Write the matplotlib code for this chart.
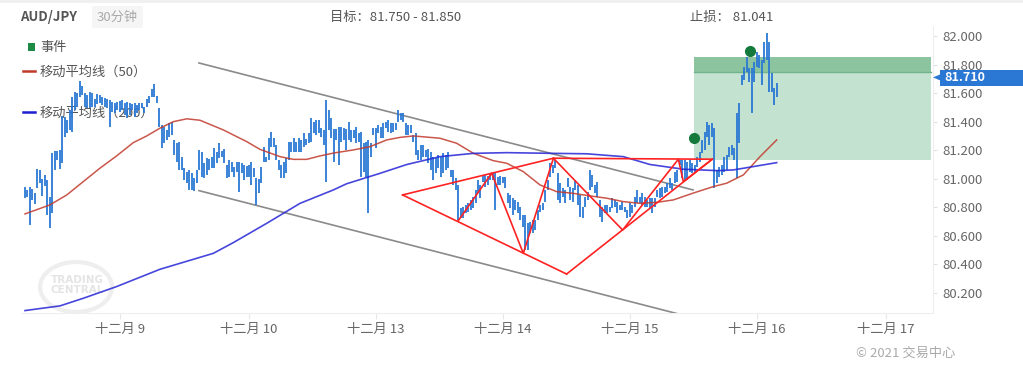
import matplotlib
matplotlib.use('Agg')
import matplotlib.pyplot as plt
from matplotlib.patches import Ellipse, Rectangle, Polygon, FancyBboxPatch
from matplotlib.transforms import blended_transform_factory
import numpy as np

plt.rcParams['font.family'] = ['Noto Sans CJK SC', 'DejaVu Sans']

# 30-minute bars, AUD/JPY (high / low per bar)
highs = [
    80.945, 80.920, 80.945, 80.930, 80.900, 81.066, 81.060, 80.996, 81.027, 80.990,
    80.875, 81.178, 81.197, 81.197, 81.200, 81.440, 81.435, 81.412, 81.482, 81.575,
    81.608, 81.603, 81.687, 81.650, 81.603, 81.587, 81.610, 81.599, 81.557, 81.594,
    81.587, 81.575, 81.565, 81.557, 81.552, 81.540, 81.529, 81.540, 81.545, 81.552,
    81.533, 81.540, 81.533, 81.524, 81.529, 81.520, 81.529, 81.533, 81.505, 81.557,
    81.580, 81.627, 81.662, 81.580, 81.494, 81.377, 81.365, 81.342, 81.389, 81.400,
    81.272, 81.250, 81.260, 81.155, 81.073, 81.050, 81.062, 81.038, 81.003, 81.062,
    81.202,
    81.190, 81.109, 81.144, 81.136, 81.155, 81.214, 81.190, 81.253, 81.197, 81.207,
    81.097, 81.132, 81.120, 81.085, 81.120, 81.120, 81.113, 81.097, 81.090, 81.097,
    81.120, 81.073, 81.003, 80.996, 81.085, 81.225, 81.155, 81.284, 81.330, 81.284,
    81.237, 81.132, 81.097, 81.120, 81.144, 81.260, 81.260, 81.284, 81.260,
    81.284, 81.272, 81.319, 81.277, 81.319, 81.424,
    81.400, 81.412, 81.412, 81.354, 81.342, 81.552, 81.482, 81.424,
    81.347, 81.347, 81.365, 81.365, 81.354, 81.347, 81.400, 81.342, 81.342, 81.365,
    81.319, 81.330, 81.249, 81.260, 81.272, 81.249, 81.354, 81.354,
    81.377, 81.365, 81.389, 81.400, 81.412, 81.389, 81.393, 81.389, 81.482, 81.459,
    81.459, 81.389, 81.377, 81.377, 81.307, 81.319, 81.202,
    81.237, 81.237, 81.202, 81.207, 81.190, 81.155, 81.144, 81.167, 81.155, 81.179,
    81.167, 81.190, 81.062, 81.062, 81.003, 80.957, 80.793, 80.805, 80.817, 80.828,
    80.852, 80.875, 80.922, 80.992, 80.957, 81.027, 81.027, 81.020, 81.038, 81.038,
    81.038, 81.010, 81.020, 81.010, 81.010, 80.898, 80.887, 80.863, 80.852, 80.840,
    80.805, 80.747, 80.747, 80.688, 80.700, 80.712, 80.712, 80.782, 80.817, 80.828,
    80.922, 80.992, 81.109, 81.097, 81.132, 81.038, 80.968, 80.933, 80.922, 81.003,
    80.945, 80.933, 80.992, 80.957, 80.887, 80.805, 80.875, 80.910, 81.062, 81.027,
    80.957, 80.980, 80.852, 80.805, 80.817, 80.817, 80.805, 80.863, 80.852, 80.840,
    80.817, 80.840, 80.805, 80.782, 80.828, 80.817, 80.875, 80.922, 80.875, 80.898,
    80.875, 80.852, 80.863, 80.863, 80.863, 80.922, 80.933, 80.945, 80.945, 80.968,
    81.003, 80.968, 81.050, 81.062, 81.132, 81.132, 81.132, 81.120, 81.132, 81.109,
    81.097, 81.155, 81.190, 81.272, 81.330, 81.400, 81.377, 81.389, 81.354, 81.062,
    81.085, 81.097,
    81.155, 81.167, 81.225, 81.237, 81.214,
    81.460, 81.528, 81.727, 81.785, 81.855, 81.774, 81.774, 81.820, 81.890, 81.867,
    81.832, 81.960, 82.019, 81.960, 81.739, 81.634, 81.669,
]
lows = [
    80.863, 80.870, 80.677, 80.850, 80.820, 80.938, 80.968, 80.880, 80.950, 80.747,
    80.658, 80.763, 81.062, 81.132, 81.066, 81.113, 81.295, 81.319, 81.342, 81.330,
    81.482, 81.505, 81.575, 81.587, 81.505, 81.494, 81.494, 81.505, 81.505, 81.524,
    81.533, 81.517, 81.500, 81.494, 81.365, 81.470, 81.459, 81.482, 81.470, 81.482,
    81.447, 81.424, 81.447, 81.482, 81.435, 81.460, 81.482, 81.494, 81.459, 81.505,
    81.533, 81.575, 81.575, 81.529, 81.365, 81.213, 81.249, 81.272, 81.295, 81.307,
    81.167, 81.120, 81.062, 81.062, 80.992, 80.968, 80.922, 80.922, 80.917, 80.968,
    81.062,
    81.015, 81.003, 81.027, 81.062, 81.073, 81.073, 81.109, 81.144, 81.155, 81.109,
    81.003, 81.015, 81.050, 81.015, 81.050, 80.910, 81.038, 80.992, 81.015, 81.015,
    80.957, 81.015, 80.817, 80.898, 80.968, 81.120, 81.120, 81.132, 81.225, 81.225,
    81.132, 81.062, 81.003, 81.003, 81.043, 81.132, 81.190, 81.190, 81.190,
    81.190, 81.190, 81.225, 81.237, 81.249, 81.260,
    81.319, 81.307, 81.319, 81.295, 81.237, 80.980, 81.342, 81.284,
    81.120, 81.272, 81.097, 81.260, 81.272, 81.202, 81.272, 81.260, 81.284, 81.249,
    81.260, 81.015, 81.050, 81.015, 80.758, 81.155, 81.307, 81.214,
    81.319, 81.284, 81.284, 81.354, 81.330, 81.319, 81.330, 81.342, 81.400, 81.412,
    81.400, 81.307, 81.307, 81.319, 81.260, 81.167, 81.132,
    81.132, 81.155, 81.155, 81.109, 81.062, 80.992, 81.038, 81.073, 81.015, 81.038,
    81.062, 81.073, 81.015, 80.957, 80.922, 80.712, 80.723, 80.723, 80.758, 80.770,
    80.782, 80.793, 80.828, 80.898, 80.863, 80.980, 80.945, 80.957, 80.992, 80.992,
    80.782, 80.957, 80.957, 80.973, 80.933, 80.828, 80.793, 80.747, 80.782, 80.758,
    80.712, 80.665, 80.502, 80.502, 80.618, 80.618, 80.642, 80.712, 80.770, 80.782,
    80.840, 80.922, 81.015, 81.038, 81.073, 80.852, 80.828, 80.875, 80.828, 80.945,
    80.852, 80.840, 80.922, 80.817, 80.735, 80.723, 80.805, 80.852, 80.922, 80.945,
    80.898, 80.875, 80.735, 80.700, 80.758, 80.758, 80.770, 80.793, 80.805, 80.758,
    80.782, 80.782, 80.770, 80.723, 80.735, 80.758, 80.805, 80.828, 80.828, 80.817,
    80.805, 80.805, 80.793, 80.758, 80.805, 80.875, 80.863, 80.875, 80.898, 80.910,
    80.933, 80.922, 80.968, 80.980, 81.097, 81.003, 80.992, 80.992, 81.050, 81.038,
    81.038, 81.085, 81.120, 81.179, 81.202, 81.295, 81.237, 81.295, 80.933, 80.968,
    81.015, 81.027,
    81.050, 81.062, 81.155, 81.167, 81.132,
    81.003, 81.250, 81.657, 81.692, 81.750, 81.680, 81.458, 81.680, 81.785, 81.774,
    81.657, 81.809, 81.832, 81.610, 81.610, 81.517, 81.575,
]

# moving averages (bar index, value)
ma50_bar = [0, 10, 16.8, 23.4, 30.1, 36.8, 43.5, 48.9, 54.2, 59.6, 65, 70.3, 79.7, 89.1,
            94.4, 102.5, 107.8, 113.2, 118.5, 123.9, 131.9, 138.6, 145.3, 150.7, 156,
            166.7, 173.4, 180.1, 188.1, 193.5, 200.2, 206.9, 213.6, 220.3, 227, 233.7,
            240.4, 247.1, 253.8, 260.5, 268.5, 276.5, 281.9, 288.6, 295.3, 302]
ma50_val = [80.754, 80.817, 80.887, 80.980, 81.074, 81.160, 81.253, 81.300, 81.354, 81.400,
            81.420, 81.410, 81.342, 81.260, 81.206, 81.155, 81.136, 81.136, 81.160, 81.180,
            81.202, 81.225, 81.272, 81.290, 81.300, 81.284, 81.249, 81.179, 81.127, 81.109,
            81.050, 80.957, 80.910, 80.898, 80.880, 80.864, 80.840, 80.828, 80.835, 80.852,
            80.900, 80.945, 80.969, 81.027, 81.155, 81.272]
ma200_bar = [0, 14.1, 23.4, 36.8, 54.2, 75.7, 83.7, 97.1, 110.5, 123.9, 129.2, 142.6,
             153.4, 166.7, 180.1, 193.5, 212.3, 225.7, 240.4, 251.1, 264.5, 278.3, 284.6, 302]
ma200_val = [80.077, 80.110, 80.163, 80.245, 80.366, 80.478, 80.553, 80.688, 80.828, 80.922,
             80.965, 81.038, 81.100, 81.155, 81.178, 81.183, 81.178, 81.175, 81.155, 81.100,
             81.067, 81.057, 81.062, 81.113]

# harmonic pattern pivots
piv = {
    'A': (151.7, 80.887), 'B': (174.1, 80.707), 'C': (187.5, 81.039),
    'D': (200.2, 80.478), 'E': (212.3, 81.144), 'F': (217.6, 80.333),
    'G': (240.1, 80.641), 'H': (262.5, 81.137), 'I': (264.5, 80.980),
    'J': (276.1, 81.137),
}
pattern_paths = ['AE', 'AF', 'BCDEGHIJ', 'FJ', 'EJ']

# descending channel
chan_bar = [69.9, 268.4]
chan_upper = [81.811, 80.922]
chan_lower = [80.917, 80.027]

# trade idea
target_lo, target_hi = 81.750, 81.850
zone_lo = 81.13
zone_bar = [268.8, 364]
event_bar = [268.8, 291.3]
event_val = [81.286, 81.897]
last_price = 81.710

day_bar = [38, 90, 141, 192, 243, 294, 346]
day_labels = ['十二月 9', '十二月 10', '十二月 13', '十二月 14', '十二月 15', '十二月 16', '十二月 17']
price_ticks = [80.2, 80.4, 80.6, 80.8, 81.0, 81.2, 81.4, 81.6, 81.8, 82.0]

W, H = 1023, 366
fig = plt.figure(figsize=(W / 100, H / 100), dpi=100)
ax = fig.add_axes([22 / W, 1 - 313 / H, (933 - 22) / W, (313 - 26) / H])
ax.patch.set_alpha(0)


def fx(px):
    return px / W


def fy(py):
    return 1 - py / H


# top strip
fig.add_artist(Rectangle((0, fy(3)), 1, 3 / H, transform=fig.transFigure,
                         color='#f0f0f0', lw=0, zorder=-3))

# watermark
fig.add_artist(Ellipse((fx(76), fy(287)), 72 / W, 50 / H, transform=fig.transFigure,
                       fill=False, ec='#eeeeee', lw=3, zorder=-2))
fig.text(fx(77), fy(280), 'TRADING', ha='center', va='center', fontsize=7.5,
         color='#e4e4e4', weight='bold', family='DejaVu Sans', zorder=-2)
fig.text(fx(77), fy(290), 'CENTRAL', ha='center', va='center', fontsize=7.5,
         color='#e4e4e4', weight='bold', family='DejaVu Sans', zorder=-2)

# legend (sits under the bars)
fig.add_artist(Rectangle((fx(27.5), fy(50.5)), 7 / W, 7 / H, transform=fig.transFigure,
                         color='#1a8a45', lw=0, zorder=-1))
fig.add_artist(plt.Line2D([fx(23), fx(35)], [fy(71), fy(71)], transform=fig.transFigure,
                          color='#c0392b', lw=1.8, zorder=-1))
fig.add_artist(plt.Line2D([fx(23), fx(35)], [fy(112), fy(112)], transform=fig.transFigure,
                          color='#1f1fd0', lw=1.8, zorder=-1))
for ypx, txt in [(47, '事件'), (72, '移动平均线（50）'), (113, '移动平均线（200）')]:
    fig.text(fx(40), fy(ypx), txt, va='center', fontsize=9.5, color='#555555', zorder=-1)

# header
fig.text(fx(20), fy(17), 'AUD/JPY', va='center', fontsize=9.5, color='#555555', weight='bold')
fig.add_artist(FancyBboxPatch((fx(92), fy(28)), 51 / W, 22 / H, transform=fig.transFigure,
                              boxstyle='round,pad=0,rounding_size=0.004',
                              fc='#f5f5f5', ec='none'))
fig.text(fx(117.5), fy(17), '30分钟', ha='center', va='center', fontsize=9.5, color='#aaaaaa')
fig.text(fx(330), fy(17), f'目标：{target_lo:.3f} - {target_hi:.3f}', va='center',
         fontsize=9.5, color='#555555')
fig.text(fx(690), fy(17), '止损： 81.041', va='center', fontsize=9.5, color='#555555')
fig.text(fx(955), fy(353), '© 2021 交易中心', ha='right', va='center', fontsize=9.5,
         color='#aaaaaa')

# trade zone
ax.fill_between(zone_bar, zone_lo, target_lo, color='#c4e2d0', lw=0, zorder=0.5)
ax.fill_between(zone_bar, target_lo, target_hi, color='#8cc4a0', lw=0, zorder=0.5)
ax.plot(zone_bar, [target_lo, target_lo], color='#72b48c', lw=1, zorder=0.6)

# channel
ax.plot(chan_bar, chan_upper, color='#8a8a8a', lw=1.2, zorder=1)
ax.plot(chan_bar, chan_lower, color='#8a8a8a', lw=1.2, zorder=1)

# bars
xb = np.arange(len(highs))
ax.vlines(xb, lows, highs, color='#2b78d4', lw=1.3, zorder=2)

# moving averages
ax.plot(ma50_bar, ma50_val, color='#c0392b', lw=1.1, alpha=0.85, zorder=3)
ax.plot(ma200_bar, ma200_val, color='#2626d6', lw=1.2, alpha=0.85, zorder=3)

# pattern
for path in pattern_paths:
    px = [piv[c][0] for c in path]
    py = [piv[c][1] for c in path]
    ax.plot(px, py, color='#ff2222', lw=1.2, zorder=4)

# events
ax.plot(event_bar, event_val, 'o', color='#147a3c', ms=7, zorder=5)

ax.set_xlim(-1.2, 364.8)
ax.set_ylim(80.06, 82.07)

ax.yaxis.tick_right()
ax.set_yticks(price_ticks)
ax.set_yticklabels([f'{v:.3f}' for v in price_ticks])
ax.set_xticks(day_bar)
ax.set_xticklabels(day_labels)
ax.tick_params(axis='y', length=3, color='#e0e0e0', pad=4, labelsize=9.5, labelcolor='#666666')
ax.tick_params(axis='x', length=4, color='#e8e8e8', pad=3, labelsize=9.5, labelcolor='#666666')
for s in ['top', 'left']:
    ax.spines[s].set_visible(False)
for s in ['right', 'bottom']:
    ax.spines[s].set_color('#eeeeee')

# last price marker (covers the lower edge of the 81.800 tick label, as in the source)
tr = blended_transform_factory(fig.transFigure, ax.transData)
fig.add_artist(Rectangle((fx(940), last_price - 0.063), 83 / W, 0.115, transform=tr,
                         color='#2b78d4', lw=0, zorder=5))
fig.add_artist(Polygon([[fx(933), last_price], [fx(940.5), last_price + 0.022],
                        [fx(940.5), last_price - 0.022]], closed=True, transform=tr,
                       color='#2b78d4', lw=0, zorder=5))
fig.text(fx(944), last_price - 0.004, f'{last_price:.3f}', transform=tr, va='center',
         fontsize=9, color='white', weight='bold', zorder=6)

fig.savefig('out.png', dpi=100)
